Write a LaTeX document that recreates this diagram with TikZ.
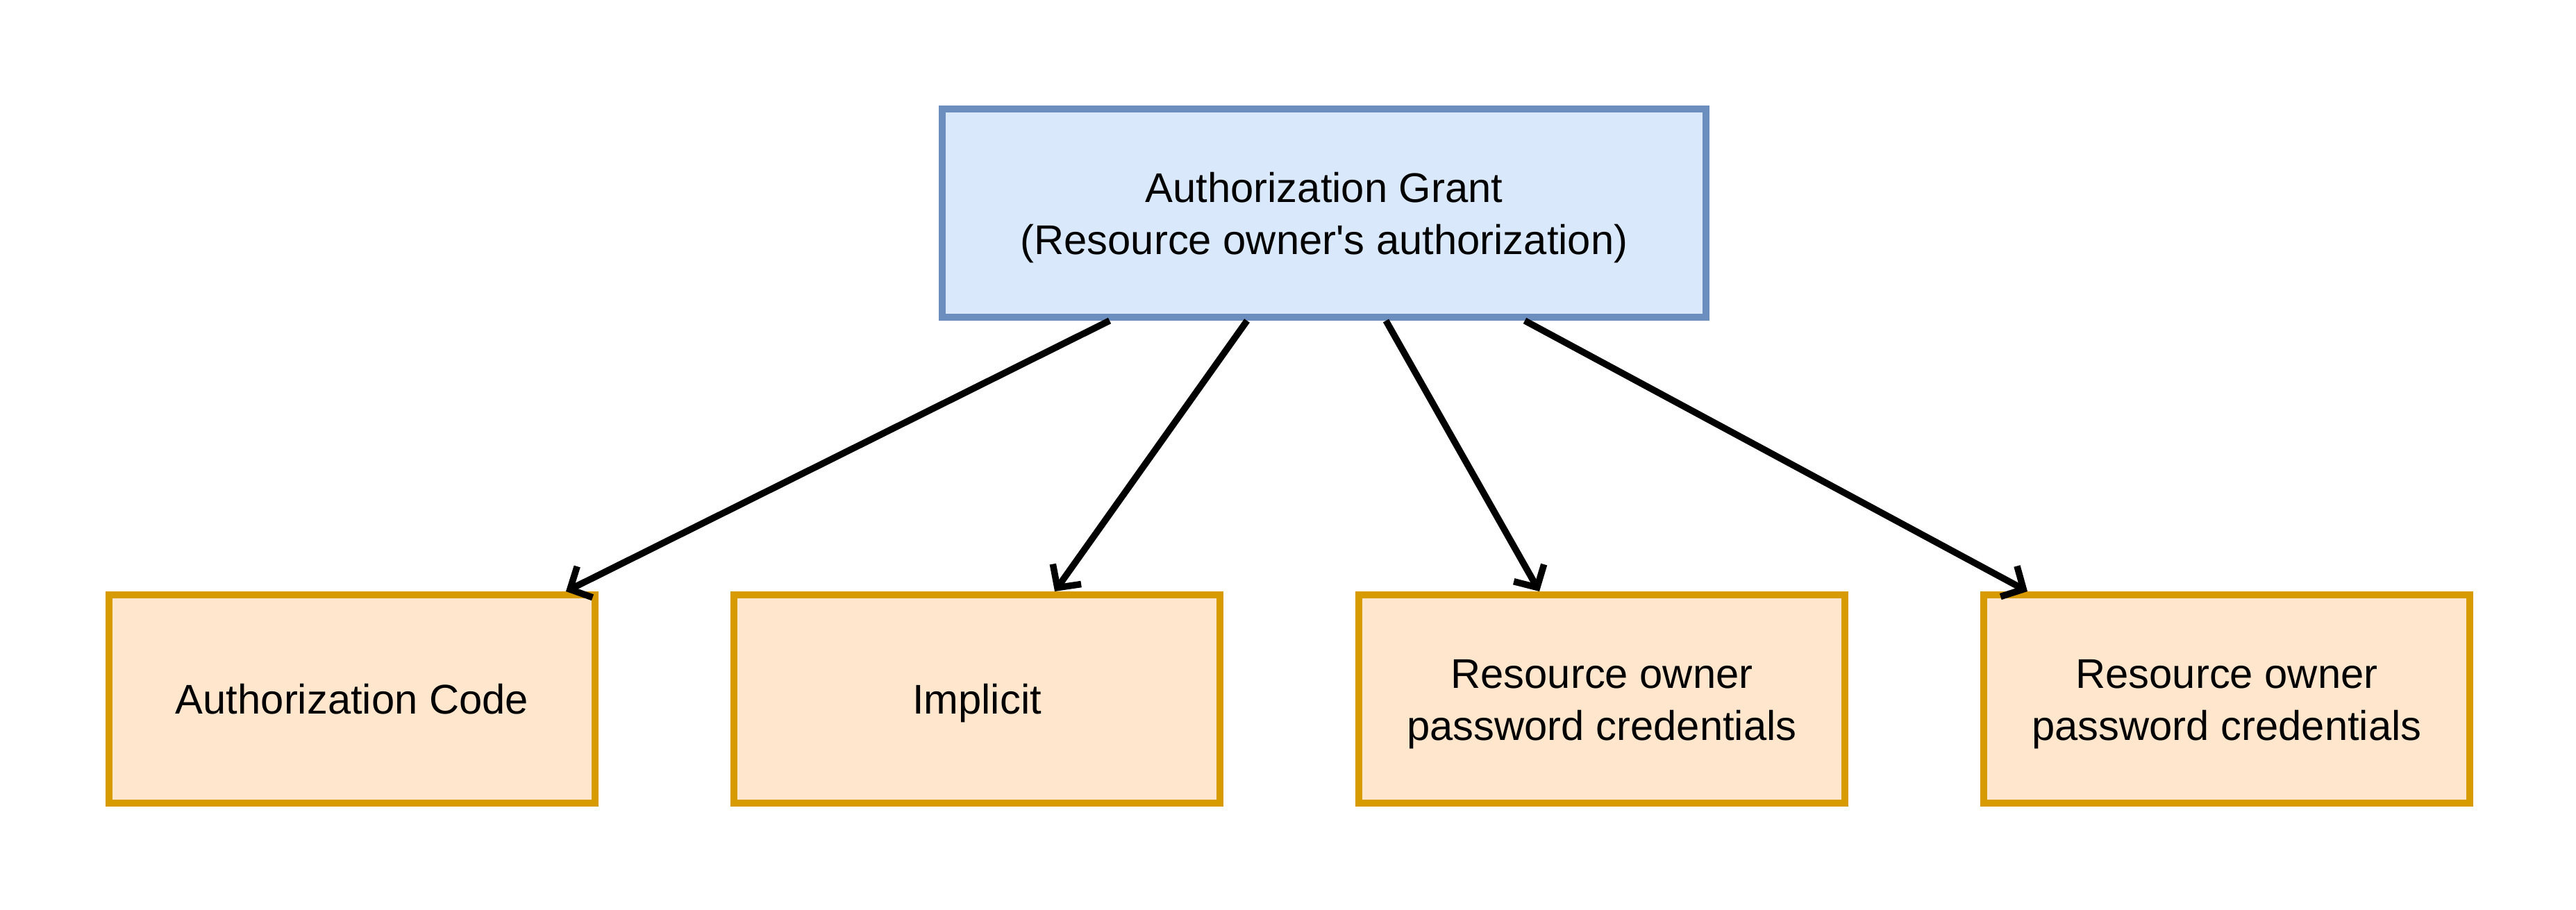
\documentclass[tikz,border=0pt]{standalone}
\usepackage{fontspec}
\setmainfont{Liberation Sans}
\usepackage{tikz}
\usetikzlibrary{positioning,arrows.meta}
\definecolor{grantfill}{HTML}{DAE8FC}
\definecolor{grantline}{HTML}{6C8EBF}
\definecolor{typefill}{HTML}{FFE6CC}
\definecolor{typeline}{HTML}{D79B00}

\begin{document}
\begin{tikzpicture}[every node/.style={font=\fontsize{17}{21.3}\selectfont,align=center},
    oneline/.style={text height=15.9pt,text depth=3.6pt}, twoline/.style={text height=37.2pt},
    grantbox/.style={draw=grantline,fill=grantfill,line width=2.85pt,minimum width=11cm,minimum height=3cm},
    typebox/.style={draw=typeline,fill=typefill,line width=2.85pt,minimum width=7cm,minimum height=3cm},
    arr/.style={line width=2.7pt,-{Straight Barb[length=2.4mm,width=5mm]}}]
    \useasboundingbox[fill=white] (0,0) rectangle (37.1,13.1);
    \node[grantbox,twoline] (grant) at (19.07,10.03) {Authorization Grant\\(Resource owner\textquotesingle s authorization)};
    \foreach \x/\name/\lines/\txt in {5.07/code/oneline/Authorization Code,14.07/implicit/oneline/Implicit,23.07/pwdA/twoline/{Resource owner\\password credentials},32.07/pwdB/twoline/{Resource owner\\password credentials}}{
      \node[typebox,\lines] (\name) at (\x,3.03) {\txt};}
    \draw[arr] ([xshift=-3.09cm]grant.south) -- ([xshift=3.08cm]code.north);
    \draw[arr] ([xshift=-1.11cm]grant.south) -- ([xshift=1.12cm]implicit.north);
    \draw[arr] ([xshift=0.89cm]grant.south) -- ([xshift=-0.9cm]pwdA.north);
    \draw[arr] ([xshift=2.89cm]grant.south) -- ([xshift=-2.87cm]pwdB.north);
\end{tikzpicture}
\end{document}
